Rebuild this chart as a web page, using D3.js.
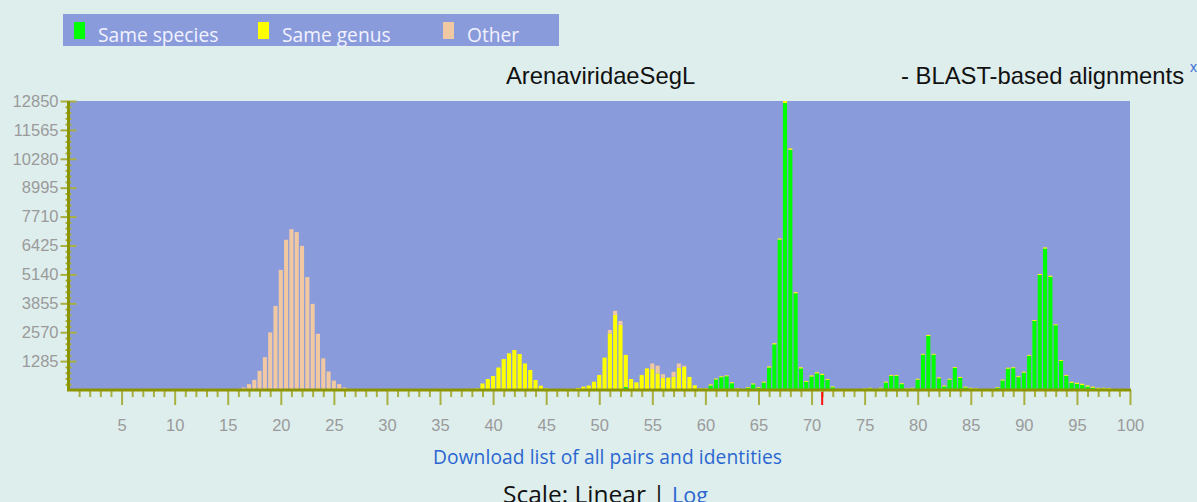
<!DOCTYPE html>
<html>
<head>
<meta charset="utf-8">
<script src="https://cdn.jsdelivr.net/npm/d3@7"></script>
<style>
    body { margin: 0; background: #deeeed; overflow: hidden; }
    svg { display: block; }
</style>
</head>
<body>
<div id="chart"></div>
<script>
// identity (%) bins of 0.5, [identity, pair count]
const sameSpecies = [
    [52.5, 130], [60.5, 200], [61, 470], [61.5, 570], [62, 610], [62.5, 300], [63, 50],
    [64, 100], [64.5, 250], [65, 100], [65.5, 330], [66, 1000], [66.5, 2030], [67, 6690],
    [67.5, 12760], [68, 10680], [68.5, 4300], [69, 960], [69.5, 360], [70, 600], [70.5, 740],
    [71, 670], [71.5, 450], [72, 120], [72.5, 20],
    [75.5, 70], [76, 30], [76.5, 70], [77, 330], [77.5, 630], [78, 630], [78.5, 260], [79, 40],
    [79.5, 70], [80, 460], [80.5, 1570], [81, 2400], [81.5, 1570], [82, 520], [82.5, 160],
    [83, 460], [83.5, 980], [84, 540], [84.5, 110], [85, 60], [85.5, 30],
    [87.5, 100], [88, 420], [88.5, 950], [89, 970], [89.5, 570], [90, 770], [90.5, 1520],
    [91, 3070], [91.5, 5110], [92, 6290], [92.5, 5030], [93, 2880], [93.5, 1290], [94, 630],
    [94.5, 320], [95, 270], [95.5, 220], [96, 150], [96.5, 100], [97, 60], [97.5, 60],
    [98, 50], [98.5, 20]
];
const sameGenus = [
    [36.5, 30], [37, 40], [37.5, 50], [38, 50], [38.5, 70], [39, 290], [39.5, 490], [40, 620],
    [40.5, 1000], [41, 1380], [41.5, 1630], [42, 1780], [42.5, 1600], [43, 1180], [43.5, 890],
    [44, 445], [44.5, 190], [45, 70], [46.5, 45], [47, 45], [47.5, 45], [48, 90], [48.5, 150],
    [49, 200], [49.5, 370], [50, 670], [50.5, 1440], [51, 2520], [51.5, 3340], [52, 2890],
    [52.5, 1430], [53, 490], [53.5, 340], [54, 670], [54.5, 960], [55, 930], [55.5, 740],
    [56, 550], [56.5, 550], [57, 590], [57.5, 990], [58, 1030], [58.5, 580], [59, 210],
    [59.5, 70], [60, 70], [60.5, 50], [61, 40], [61.5, 40], [62, 40], [62.5, 40], [63, 30],
    [64, 30], [64.5, 40], [65, 30], [65.5, 40], [66, 50], [66.5, 50], [67, 50], [67.5, 90],
    [68, 60], [68.5, 50], [69, 50], [69.5, 40], [70, 50], [70.5, 50], [71, 50], [71.5, 40],
    [72, 40], [72.5, 20], [73, 20], [75, 70], [75.5, 30], [76, 20], [76.5, 30], [77, 40],
    [77.5, 40], [78, 40], [78.5, 40], [79, 30], [79.5, 30], [80, 40], [80.5, 40], [81, 50],
    [81.5, 40], [82, 40], [82.5, 40], [83, 40], [83.5, 40], [84, 40], [84.5, 40], [85, 40],
    [85.5, 40], [87.5, 30], [88, 40], [88.5, 40], [89, 40], [89.5, 40], [90, 40], [90.5, 40],
    [91, 40], [91.5, 50], [92, 50], [92.5, 50], [93, 40], [93.5, 40], [94, 40], [94.5, 50],
    [95, 55], [95.5, 60], [96, 55], [96.5, 50], [97, 40], [97.5, 40], [98, 40], [98.5, 20]
];
const other = [
    [15.5, 20], [16, 50], [16.5, 110], [17, 260], [17.5, 450], [18, 850], [18.5, 1460],
    [19, 2560], [19.5, 3740], [20, 5340], [20.5, 6680], [21, 7150], [21.5, 7020], [22, 6410],
    [22.5, 5020], [23, 3830], [23.5, 2500], [24, 1410], [24.5, 820], [25, 420], [25.5, 260],
    [26, 110], [26.5, 50], [27, 20],
    [51, 150], [51.5, 180], [52, 180], [55, 250], [55.5, 340], [56, 150], [57, 220],
    [57.5, 190], [58, 50]
];
const legendLabels = ['Same species', 'Same genus', 'Other'];
const yTicks = [1285, 2570, 3855, 5140, 6425, 7710, 8995, 10280, 11565, 12850];
const xTicks = [5, 10, 15, 20, 25, 30, 35, 40, 45, 50, 55, 60, 65, 70, 75, 80, 85, 90, 95, 100];
const marker = 71;
const binWidth = 0.5;

const w = 1197;
const h = 502;
const plot = { left: 68.5, right: 1130, top: 101, bottom: 390 };
const colors = ['#00ff00', '#ffff00', '#f0c8a2'];

// build the table for stacking
const keys = ['species', 'genus', 'other'];
const table = new Map();
[sameSpecies, sameGenus, other].forEach((series, i) => {
    series.forEach(([v, n]) => {
        if (!table.has(v)) table.set(v, { v: v, species: 0, genus: 0, other: 0 });
        table.get(v)[keys[i]] = n;
    });
});
const rows = Array.from(table.values()).sort((a, b) => a.v - b.v);
const stacked = d3.stack().keys(keys)(rows);

const x_scale = d3.scaleLinear().domain([0, 100]).range([plot.left, plot.right]);
const y_scale = d3.scaleLinear().domain([0, 12850]).range([plot.bottom, plot.top]);

const svg = d3.select('#chart')
    .append('svg')
    .attr('width', w)
    .attr('height', h);

svg.append('rect')
    .attr('width', w)
    .attr('height', h)
    .attr('fill', '#deeeed');

// legend
svg.append('rect')
    .attr('x', 63).attr('y', 14)
    .attr('width', 496).attr('height', 32)
    .attr('fill', '#8a9bdc');

const legendX = [74, 258, 443];
legendLabels.forEach((label, i) => {
    svg.append('rect')
        .attr('x', legendX[i]).attr('y', 22)
        .attr('width', 11).attr('height', 17)
        .attr('fill', colors[i]);
    svg.append('text')
        .attr('x', legendX[i] + 24).attr('y', 42)
        .attr('font-family', '"Open Sans", sans-serif')
        .attr('font-size', 19.2)
        .attr('fill', '#f2f2ff')
        .text(label);
});

// title
const titleFont = '"Liberation Sans", Arial, sans-serif';
svg.append('text')
    .attr('x', 506).attr('y', 84)
    .attr('font-family', titleFont)
    .attr('font-size', 23.8)
    .attr('fill', '#111')
    .text('ArenaviridaeSegL');
svg.append('text')
    .attr('x', 901).attr('y', 84)
    .attr('font-family', titleFont)
    .attr('font-size', 23.8)
    .attr('fill', '#111')
    .text('- BLAST-based alignments');
svg.append('text')
    .attr('x', 1190).attr('y', 72)
    .attr('font-family', titleFont)
    .attr('font-size', 14)
    .attr('fill', '#3a6fd8')
    .text('x');

// plot background
svg.append('rect')
    .attr('x', plot.left).attr('y', plot.top)
    .attr('width', plot.right - plot.left)
    .attr('height', plot.bottom - plot.top)
    .attr('fill', '#8a9bdc');

// bars
const step = x_scale(binWidth) - x_scale(0);
svg.append('g')
    .selectAll('g')
    .data(stacked)
    .join('g')
    .attr('fill', (d, i) => colors[i])
    .selectAll('rect')
    .data(d => d.filter(s => s[1] > s[0]))
    .join('rect')
    .attr('x', d => x_scale(d.data.v - binWidth / 2) + 0.6)
    .attr('width', step - 1.2)
    .attr('y', d => y_scale(d[1]))
    .attr('height', d => y_scale(d[0]) - y_scale(d[1]));

// axes
const axisColor = '#8c9400';
const tickColor = '#aab040';

const xMinor = svg.append('g')
    .attr('transform', `translate(0, ${plot.bottom})`)
    .call(d3.axisBottom(x_scale)
        .tickValues(d3.range(1, 100).filter(v => v % 5 !== 0))
        .tickSize(7)
        .tickFormat(''));
xMinor.select('.domain').remove();
xMinor.selectAll('line').attr('stroke', tickColor).attr('stroke-width', 2);

const xAxis = svg.append('g')
    .attr('transform', `translate(0, ${plot.bottom})`)
    .call(d3.axisBottom(x_scale)
        .tickValues(xTicks)
        .tickSize(15)
        .tickPadding(14));
xAxis.select('.domain').remove();
xAxis.selectAll('line').attr('stroke', tickColor).attr('stroke-width', 2);
xAxis.selectAll('text')
    .attr('fill', '#9a9a9a')
    .attr('font-family', titleFont)
    .attr('font-size', 16.5);

const yMinor = svg.append('g')
    .attr('transform', `translate(${plot.left}, 0)`)
    .call(d3.axisLeft(y_scale)
        .tickValues(d3.range(257, 12850, 257).filter((v, i) => (i + 1) % 5 !== 0))
        .tickSize(3)
        .tickFormat(''));
yMinor.select('.domain').remove();
yMinor.selectAll('line').attr('x2', -3).attr('x1', 3).attr('stroke', tickColor).attr('stroke-width', 2);

const yAxis = svg.append('g')
    .attr('transform', `translate(${plot.left}, 0)`)
    .call(d3.axisLeft(y_scale)
        .tickValues(yTicks)
        .tickFormat(d3.format('d'))
        .tickSize(8)
        .tickPadding(2));
yAxis.select('.domain').remove();
yAxis.selectAll('line').attr('x1', 8).attr('stroke', tickColor).attr('stroke-width', 2);
yAxis.selectAll('text')
    .attr('fill', '#9a9a9a')
    .attr('font-family', titleFont)
    .attr('font-size', 16.5);

// axis lines
svg.append('path')
    .attr('d', `M${plot.left},${plot.top}V${plot.bottom}H${plot.right + 1}`)
    .attr('fill', 'none')
    .attr('stroke', axisColor)
    .attr('stroke-width', 3);

// red marker
svg.append('line')
    .attr('x1', x_scale(marker)).attr('x2', x_scale(marker))
    .attr('y1', plot.bottom + 2).attr('y2', plot.bottom + 15)
    .attr('stroke', '#ff1010')
    .attr('stroke-width', 2);

// links below
svg.append('text')
    .attr('x', 433).attr('y', 464)
    .attr('font-family', '"Open Sans", sans-serif')
    .attr('font-size', 19.2)
    .attr('textLength', 349)
    .attr('fill', '#2a66d0')
    .text('Download list of all pairs and identities');

const scaleText = svg.append('text')
    .attr('x', 503).attr('y', 503)
    .attr('font-family', '"Open Sans", sans-serif')
    .attr('font-size', 24.5)
    .attr('fill', '#111');
scaleText.append('tspan').text('Scale: Linear | ');
scaleText.append('tspan').attr('fill', '#2a66d0').attr('font-size', 21.5).text('Log');
</script>
</body>
</html>
